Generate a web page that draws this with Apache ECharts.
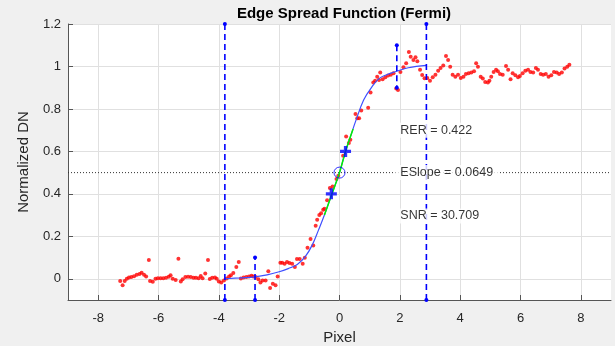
<!DOCTYPE html>
<html>
<head>
<meta charset="utf-8">
<script src="https://cdn.jsdelivr.net/npm/echarts@6/dist/echarts.min.js"></script>
<style>
html,body{margin:0;padding:0;background:#f0f0f0;}
#chart{width:615px;height:346px;}
</style>
</head>
<body>
<div id="chart"></div>
<script>
// ---- data ----
const xTicks = [-8, -6, -4, -2, 0, 2, 4, 6, 8];
const yTicks = [0, 0.2, 0.4, 0.6, 0.8, 1, 1.2];

const esfPixel = [
  -7.27,-7.19,-7.12,-7.05,-6.98,-6.90,-6.81,-6.72,-6.63,-6.56,-6.48,-6.41,-6.32,-6.28,-6.19,-6.10,-6.02,-5.93,-5.84,-5.75,
  -5.66,-5.60,-5.53,-5.43,-5.34,-5.26,-5.20,-5.11,-5.02,-4.93,-4.84,-4.76,-4.67,-4.60,-4.54,-4.45,-4.36,-4.30,-4.22,-4.13,
  -4.07,-4.00,-3.92,-3.83,-3.74,-3.66,-3.60,-3.52,-3.42,-3.34,-3.27,-3.18,-3.09,-3.00,-2.92,-2.86,-2.78,-2.69,-2.62,-2.55,
  -2.45,-2.36,-2.30,-2.21,-2.12,-2.05,-1.96,-1.90,-1.82,-1.74,-1.66,-1.57,-1.48,-1.41,-1.32,-1.22,-1.15,-1.06,-0.96,-0.87,
  -0.79,-0.74,-0.67,-0.61,-0.54,-0.50,-0.41,-0.32,-0.23,-0.10,-0.04,0.12,0.22,0.31,0.36,0.53,0.59,0.65,0.72,0.95,
  1.03,1.12,1.18,1.25,1.31,1.35,1.43,1.52,1.61,1.70,1.79,1.88,1.94,2.02,2.12,2.21,2.30,2.36,2.45,2.52,
  2.58,2.67,2.74,2.82,2.91,3.00,3.09,3.18,3.27,3.35,3.44,3.53,3.60,3.67,3.75,3.84,3.93,4.02,4.11,4.19,
  4.28,4.37,4.46,4.53,4.59,4.68,4.75,4.83,4.92,4.97,5.03,5.11,5.19,5.25,5.32,5.41,5.52,5.59,5.67,5.74,
  5.83,5.92,5.98,6.07,6.16,6.25,6.33,6.42,6.51,6.58,6.67,6.75,6.84,6.93,7.02,7.11,7.20,7.28,7.37,7.46,
  7.55,7.62
];
const esfDN = [
  -0.010,-0.030,-0.010,0.000,0.006,0.008,0.012,0.019,0.022,0.028,0.019,0.011,0.088,-0.010,-0.014,0.000,0.003,0.003,0.003,0.005,
  0.009,0.016,0.000,-0.006,0.094,-0.013,-0.002,0.008,0.009,0.008,0.005,0.005,0.003,0.013,0.003,0.025,0.088,-0.001,0.005,0.006,
  0.000,-0.013,-0.017,-0.008,0.001,0.011,0.017,0.027,0.055,0.079,0.001,0.006,0.008,0.011,0.014,0.011,0.008,-0.002,-0.017,-0.008,
  -0.008,0.036,-0.044,-0.024,-0.030,0.011,0.075,0.075,0.071,0.079,0.074,0.071,0.055,0.093,0.093,0.071,0.099,0.146,0.187,0.157,
  0.250,0.278,0.300,0.309,0.325,0.330,0.370,0.427,0.435,0.470,0.485,0.580,0.670,0.640,0.655,0.776,0.756,0.756,0.792,0.806,
  0.877,0.924,0.933,0.952,0.936,0.971,0.940,0.949,0.957,0.961,0.968,0.896,0.889,0.974,0.996,1.015,1.068,1.046,1.031,1.043,
  1.024,0.984,0.960,0.944,0.946,0.933,0.949,0.961,0.980,0.993,1.005,1.049,1.031,0.999,0.961,0.952,0.961,0.946,0.952,0.965,
  0.968,0.971,0.977,1.015,0.999,0.952,0.943,0.927,0.924,0.933,0.952,0.974,0.984,0.977,0.965,0.961,1.002,0.984,0.940,0.968,
  0.959,0.949,0.955,0.968,0.980,0.984,0.974,0.971,0.993,0.984,0.965,0.961,0.965,0.952,0.959,0.974,0.971,0.965,0.971,0.990,
  0.999,1.008
];

// Fermi fit curve
const fitPixel = [-3.8,-3.3,-2.8,-2.4,-2.0,-1.7,-1.4,-1.13,-0.9,-0.7,-0.5,-0.25,0,0.2,0.4,0.53,0.8,1.08,1.33,1.6,1.85,2.28,2.88];
const fitDN    = [0.000,0.004,0.009,0.018,0.033,0.048,0.067,0.105,0.160,0.228,0.300,0.400,0.500,0.600,0.685,0.740,0.842,0.905,0.945,0.963,0.975,0.994,1.005];

// slope segment (green)
const slopePixel = [-0.5,-0.25,0,0.2,0.45];
const slopeDN    = [0.300,0.400,0.500,0.600,0.705];

// edge markers
const plusPixel = [-0.27, 0.2];
const plusDN    = [0.40, 0.60];
const centerPoint = [0, 0.5];

// dashed boundaries
const outerCut = [-3.8, 2.88];
const outerSpan = [-0.1, 1.2];
const lowCut = -2.8, lowSpan = [-0.1, 0.1];
const highCut = 1.9, highSpan = [1.1, 0.9];

// annotations
const annotText = ['RER = 0.422', 'ESlope = 0.0649', 'SNR = 30.709'];
const annotX = 1.85;
const annotY = [0.70, 0.50, 0.296];

// ---- chart ----
const font = '"Liberation Sans", Arial, Helvetica, sans-serif';
const blue = '#0000ff';
const dashStyle = { color: blue, width: 1.6, type: [6, 4] };

function vline(x, span) {
  return {
    type: 'line', data: span.map(v => [x, v]), symbol: 'circle', symbolSize: 4,
    itemStyle: { color: blue }, lineStyle: dashStyle, z: 5, animation: false, silent: true
  };
}

const chart = echarts.init(document.getElementById('chart'), null, { renderer: 'canvas' });
chart.setOption({
  backgroundColor: '#f0f0f0',
  animation: false,
  title: {
    text: 'Edge Spread Function (Fermi)',
    left: 339, top: 1, textAlign: 'center',
    textStyle: { fontFamily: font, fontSize: 15, fontWeight: 'bold', color: '#000' }
  },
  grid: { left: 68, right: 4, top: 24, bottom: 46, show: true, backgroundColor: '#ffffff', borderWidth: 0, outerBoundsMode: 'none', containLabel: false },
  xAxis: {
    type: 'value', min: -9, max: 9,
    name: 'Pixel', nameLocation: 'middle', nameGap: 26,
    nameTextStyle: { fontFamily: font, fontSize: 15, color: '#262626' },
    axisLine: { show: true, onZero: false, lineStyle: { color: '#555', width: 1 } },
    axisTick: { show: true, inside: true, length: 5, customValues: xTicks, lineStyle: { color: '#555' } },
    axisLabel: { customValues: xTicks, fontFamily: font, fontSize: 13, color: '#262626', margin: 12 },
    splitLine: { show: true, lineStyle: { color: '#e0e0e0', width: 1 } }
  },
  yAxis: {
    type: 'value', min: -0.1, max: 1.2,
    name: 'Normalized DN', nameLocation: 'middle', nameGap: 37,
    nameTextStyle: { fontFamily: font, fontSize: 15, color: '#262626' },
    axisLine: { show: true, onZero: false, lineStyle: { color: '#555', width: 1 } },
    axisTick: { show: true, inside: true, length: 5, customValues: yTicks, lineStyle: { color: '#555' } },
    axisLabel: { customValues: yTicks, fontFamily: font, fontSize: 13, color: '#262626', margin: 7 },
    splitLine: { show: true, lineStyle: { color: '#e0e0e0', width: 1 } }
  },
  series: [
    {
      name: 'ESF', type: 'scatter', symbol: 'circle', symbolSize: 4,
      itemStyle: { color: '#ff0000' },
      data: esfPixel.map((x, i) => [x, esfDN[i]]), z: 2
    },
    {
      name: 'dotted', type: 'line', symbol: 'none',
      data: [[-9, 0.5], [9, 0.5]],
      lineStyle: { color: '#333', width: 1, type: [1, 2] }, z: 2
    },
    {
      name: 'fit', type: 'line', symbol: 'none', smooth: 0.4,
      data: fitPixel.map((x, i) => [x, fitDN[i]]),
      lineStyle: { color: '#3f4fff', width: 1.2 }, z: 3
    },
    {
      name: 'slope', type: 'line', symbol: 'none', smooth: 0.3,
      data: slopePixel.map((x, i) => [x, slopeDN[i]]),
      lineStyle: { color: '#00ee00', width: 1.5 }, z: 4
    },
    vline(outerCut[0], outerSpan),
    vline(outerCut[1], outerSpan),
    vline(lowCut, lowSpan),
    vline(highCut, highSpan),
    {
      name: 'plus', type: 'scatter',
      symbol: 'path://M3.5,0H6.5V3.5H10V6.5H6.5V10H3.5V6.5H0V3.5H3.5Z', symbolSize: 11,
      itemStyle: { color: blue },
      data: plusPixel.map((x, i) => [x, plusDN[i]]), z: 6
    },
    {
      name: 'center', type: 'scatter', symbol: 'circle', symbolSize: 11,
      itemStyle: { color: 'rgba(0,0,0,0)', borderColor: blue, borderWidth: 1 },
      data: [centerPoint], z: 6
    },
    {
      name: 'annot', type: 'scatter', symbolSize: 0, z: 10,
      data: annotText.map((t, i) => ({ name: t, value: [annotX, annotY[i]] })),
      label: {
        show: true, position: 'right', distance: 0, formatter: '{b}',
        fontFamily: font, fontSize: 12.5, color: '#000',
        backgroundColor: '#ffffff', padding: [1, 5, 1, 5]
      }
    }
  ]
});
</script>
</body>
</html>
